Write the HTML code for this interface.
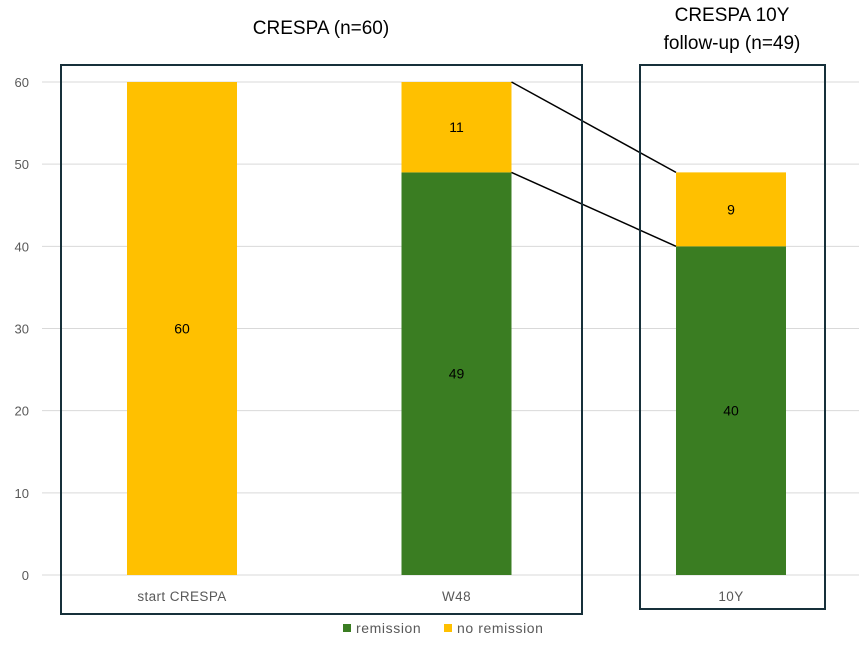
<!DOCTYPE html>
<html><head><meta charset="utf-8"><style>
body{margin:0;background:#fff;}
svg{display:block;font-family:"Liberation Sans",sans-serif;}
</style></head><body>
<svg id="chart" width="859" height="648">
<g id="grid"></g><g id="bars"></g><g id="overlay"></g>
</svg>
<script>
const categories = ["start CRESPA","W48","10Y"];
const remission = [0,49,40];
const noRemission = [60,11,9];
const yTicks = [0,10,20,30,40,50,60];
const NS="http://www.w3.org/2000/svg";
const svg=document.getElementById('chart');
function y(v){return 575 - v*(575-82)/60;}
function xc(i){return 182 + i*274.5;}
const BW=110;
function mk(tag,attrs,parent,txt){const e=document.createElementNS(NS,tag);for(const k in attrs)e.setAttribute(k,attrs[k]);if(txt!==undefined)e.textContent=txt;parent.appendChild(e);return e;}
const grid=document.getElementById('grid'),bars=document.getElementById('bars'),ov=document.getElementById('overlay');
yTicks.forEach(t=>{
  const l=mk('line',{x1:42,x2:859,y1:y(t),y2:y(t),stroke:'#d9d9d9','stroke-width':1},grid);
  
  
  const tx=mk('text',{x:29,y:y(t)+5,'text-anchor':'end','font-size':13,fill:'#595959'},grid,String(t));
  
  
});
categories.forEach((c,i)=>{
  const x0=xc(i)-BW/2;
  if(remission[i]>0){
    const r=mk('rect',{x:x0,y:y(remission[i]),width:BW,height:y(0)-y(remission[i]),fill:'#3a7d22'},bars);
    
    
    const t=mk('text',{x:xc(i),y:(y(0)+y(remission[i]))/2+5,'text-anchor':'middle','font-size':14,fill:'#000'},bars,String(remission[i]));
    
    
  }
  const top=remission[i]+noRemission[i];
  const r2=mk('rect',{x:x0,y:y(top),width:BW,height:y(remission[i])-y(top),fill:'#ffc000'},bars);
  
  
  const t2=mk('text',{x:xc(i),y:(y(remission[i])+y(top))/2+5,'text-anchor':'middle','font-size':14,fill:'#000'},bars,String(noRemission[i]));
  
  
  const cl=mk('text',{x:xc(i),y:601,'text-anchor':'middle','font-size':13.5,'letter-spacing':0.4,fill:'#595959'},bars,c);
  
  
});
[[remission[1]+noRemission[1],remission[2]+noRemission[2]],[remission[1],remission[2]]].forEach((p,k)=>{
  const l=mk('line',{x1:xc(1)+BW/2,y1:y(p[0]),x2:xc(2)-BW/2,y2:y(p[1]),stroke:'#000','stroke-width':1.5},ov);
  
  
});
</script>
<script>
(function(){
const svg=document.getElementById('chart');
svg.insertAdjacentHTML('beforeend',`
<rect x="61" y="65" width="521" height="549" fill="none" stroke="#17303a" stroke-width="2"/>
<rect x="640" y="65" width="185" height="544" fill="none" stroke="#17303a" stroke-width="2"/>
<text x="321" y="34" text-anchor="middle" font-size="19" fill="#000">CRESPA (n=60)</text>
<text x="732" y="21" text-anchor="middle" font-size="19" fill="#000">CRESPA 10Y</text>
<text x="732" y="49" text-anchor="middle" font-size="19" fill="#000">follow-up (n=49)</text>
<g>
<rect x="343" y="624" width="8" height="8" fill="#3a7d22"/>
<text x="356" y="633" font-size="14" letter-spacing="0.6" fill="#595959">remission</text>
<rect x="444" y="624" width="8" height="8" fill="#ffc000"/>
<text x="457" y="633" font-size="14" letter-spacing="0.6" fill="#595959">no remission</text>
</g>`);
})();
</script>
</body></html>
